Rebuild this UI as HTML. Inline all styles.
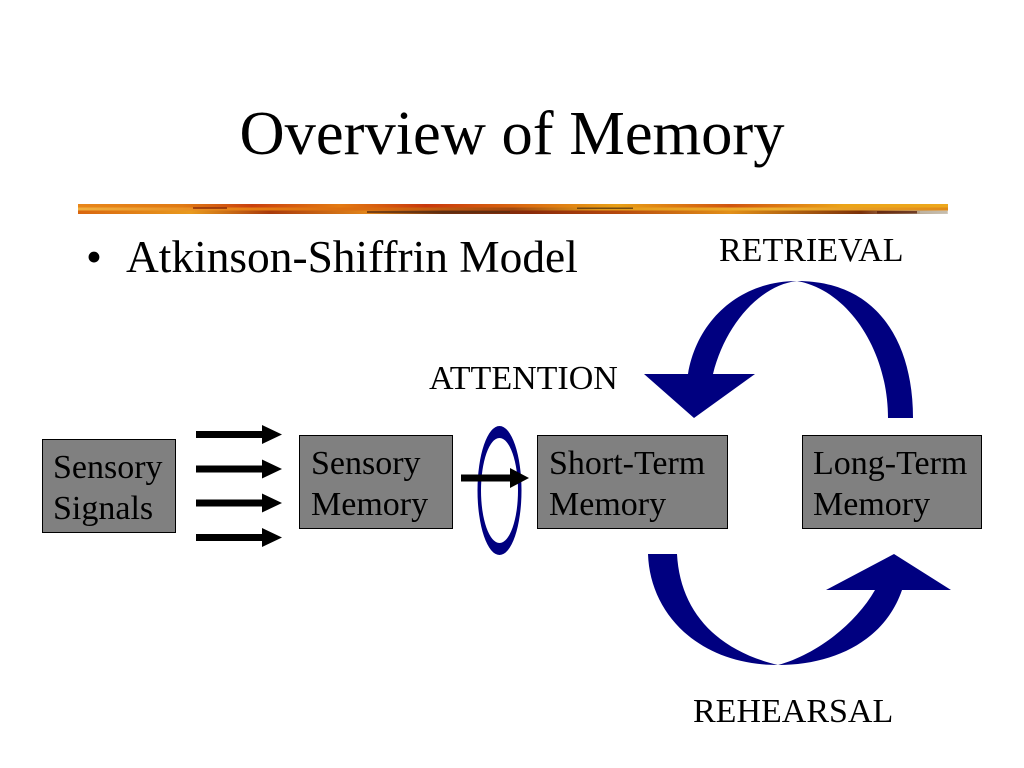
<!DOCTYPE html>
<html>
<head>
<meta charset="utf-8">
<style>
html,body{margin:0;padding:0;background:#fff;width:1024px;height:768px;overflow:hidden}
svg{display:block}
text{font-family:"Liberation Serif",serif;fill:#000}
</style>
</head>
<body>
<svg width="1024" height="768" viewBox="0 0 1024 768" xmlns="http://www.w3.org/2000/svg">
<defs>
<linearGradient id="b1" x1="0" x2="1" y1="0" y2="0">
<stop offset="0" stop-color="#e8861a"/><stop offset=".12" stop-color="#e07a14"/><stop offset=".2" stop-color="#c9400e"/><stop offset=".3" stop-color="#e37a12"/><stop offset=".4" stop-color="#c8380c"/><stop offset=".5" stop-color="#d9640f"/><stop offset=".62" stop-color="#e8a017"/><stop offset=".75" stop-color="#d0550f"/><stop offset=".88" stop-color="#eba418"/><stop offset="1" stop-color="#eda81c"/>
</linearGradient>
<linearGradient id="b2" x1="0" x2="1" y1="0" y2="0">
<stop offset="0" stop-color="#d9660f"/><stop offset=".13" stop-color="#e89a1e"/><stop offset=".22" stop-color="#a83a0c"/><stop offset=".33" stop-color="#e0841a"/><stop offset=".42" stop-color="#6b3010"/><stop offset=".52" stop-color="#8a2a0a"/><stop offset=".62" stop-color="#b5480e"/><stop offset=".75" stop-color="#e29018"/><stop offset=".9" stop-color="#7a3009"/><stop offset=".96" stop-color="#b09a80"/><stop offset="1" stop-color="#d8d0c4"/>
</linearGradient>
<linearGradient id="b3" x1="0" x2="1" y1="0" y2="0">
<stop offset="0" stop-color="#f0b040"/><stop offset=".2" stop-color="#e57d14"/><stop offset=".35" stop-color="#d8680f"/><stop offset=".5" stop-color="#a04a10"/><stop offset=".6" stop-color="#e59a1a"/><stop offset=".8" stop-color="#eeb030"/><stop offset="1" stop-color="#e08a18"/>
</linearGradient>
</defs>

<text x="512" y="154" font-size="62.500" text-anchor="middle">Overview of Memory</text>

<rect x="78" y="204" width="870" height="3.500" fill="url(#b1)"/>
<rect x="78" y="207.500" width="870" height="3" fill="url(#b3)"/>
<rect x="78" y="210.500" width="870" height="3.500" fill="url(#b2)"/>
<g opacity=".75">
<rect x="193" y="207" width="34" height="2" fill="#8a2a08"/>
<rect x="367" y="211" width="143" height="2" fill="#5a2c10"/>
<rect x="577" y="207.500" width="56" height="1.500" fill="#4a3010"/>
<rect x="877" y="211" width="40" height="2.500" fill="#5a1e08"/>
<rect x="920" y="211" width="27" height="2.500" fill="#c0b8a8"/>
</g>

<text x="86" y="272" font-size="45.500">•</text>
<text x="126" y="272" font-size="45.400">Atkinson-Shiffrin Model</text>

<text x="719" y="261" font-size="34">RETRIEVAL</text>
<text x="429" y="389" font-size="34">ATTENTION</text>
<text x="693" y="722" font-size="34">REHEARSAL</text>

<!-- retrieval arrow -->
<path d="M913,418 C913,345 880,281 797,281 C740,281 697,320 688,374 L644,374 L694,418 L755,374 L713,374 C725,325 760,285 797,281 C848,290 888,350 888,418 Z" fill="#000080"/>

<!-- rehearsal arrow -->
<path d="M648,554 C650,615 700,665 778,665 C835,665 885,640 902,590 L951,590 L894,554 L826,590 L875,590 C855,625 815,655 778,665 C715,650 680,610 677,554 Z" fill="#000080"/>

<!-- boxes -->
<g fill="#808080" stroke="#000" stroke-width="1">
<rect x="42.500" y="439.500" width="133" height="93"/>
<rect x="299.500" y="435.500" width="153" height="93"/>
<rect x="537.500" y="435.500" width="190" height="93"/>
<rect x="802.500" y="435.500" width="179" height="93"/>
</g>
<g font-size="34">
<text x="53" y="478">Sensory</text>
<text x="53" y="519">Signals</text>
<text x="311" y="474">Sensory</text>
<text x="311" y="515">Memory</text>
<text x="549" y="474">Short-Term</text>
<text x="549" y="515">Memory</text>
<text x="813" y="474">Long-Term</text>
<text x="813" y="515">Memory</text>
</g>

<!-- attention ellipse -->
<path fill-rule="evenodd" fill="#000080" d="M477.500,490.500 A22,64.500 0 1 0 521.500,490.500 A22,64.500 0 1 0 477.500,490.500 Z M481,490.500 A18.500,52.500 0 1 1 518,490.500 A18.500,52.500 0 1 1 481,490.500 Z"/>

<!-- black arrows -->
<g fill="#000">
<path d="M196,431 H262 V425 L282,434.500 L262,444 V438 H196 Z"/>
<path d="M196,465.500 H262 V459.500 L282,469 L262,478.500 V472.500 H196 Z"/>
<path d="M196,499.500 H262 V493.500 L282,503 L262,512.500 V506.500 H196 Z"/>
<path d="M196,534 H262 V528 L282,537.500 L262,547 V541 H196 Z"/>
<path d="M461,474.500 H510 V468 L529,478 L510,488 V481.500 H461 Z"/>
</g>
</svg>
</body>
</html>
